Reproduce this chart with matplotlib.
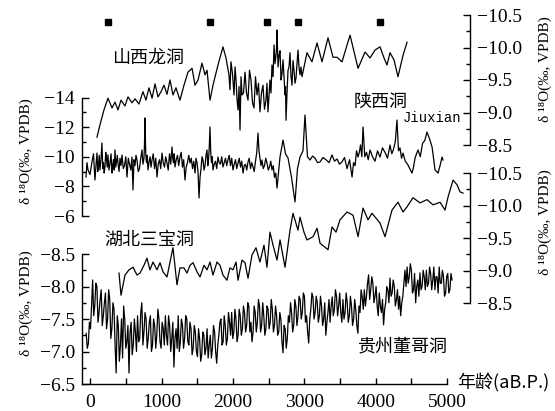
import matplotlib
matplotlib.use("Agg")
import matplotlib.pyplot as plt
import matplotlib.transforms as mtransforms

plt.rcParams['font.family'] = ['Liberation Serif', 'DejaVu Serif']

# ---- data (age in a B.P., d18O in permil VPDB) ----
longdong_age = [91, 133, 189, 245, 302, 344, 386, 428, 484, 526,
                582, 624, 680, 736, 778, 820, 863, 905, 947, 989,
                1031, 1073, 1115, 1157, 1199, 1255, 1311, 1367, 1424, 1466,
                1508, 1564, 1606, 1634, 1676, 1718, 1788, 1858, 1900, 1942,
                1956, 1970, 1991, 2013, 2027, 2041, 2055, 2069, 2083, 2097,
                2111, 2125, 2146, 2167, 2188, 2209, 2230, 2251, 2272, 2293,
                2314, 2335, 2356, 2377, 2398, 2419, 2440, 2461, 2475, 2489,
                2503, 2517, 2531, 2545, 2560, 2574, 2588, 2602, 2609, 2616,
                2630, 2644, 2658, 2672, 2686, 2700, 2714, 2728, 2735, 2742,
                2756, 2770, 2784, 2798, 2812, 2826, 2840, 2854, 2868, 2882,
                2896, 2910, 2924, 2938, 2952, 2966, 3036, 3106, 3177, 3247,
                3331, 3401, 3457, 3527, 3640, 3752, 3850, 3920, 3990, 4060,
                4116, 4158, 4200, 4256, 4312, 4383, 4439]
longdong_d18o = [-8.62, -8.81, -9.04, -9.22, -9.07, -9.16, -9.04, -9.19, -9.10, -9.24,
                 -9.15, -9.21, -9.13, -9.32, -9.19, -9.38, -9.22, -9.44, -9.24, -9.32,
                 -9.42, -9.28, -9.50, -9.27, -9.38, -9.19, -9.42, -9.62, -9.68, -9.42,
                 -9.50, -9.76, -9.58, -9.65, -9.19, -9.42, -9.73, -10.01, -9.84, -9.58,
                 -9.35, -9.78, -9.60, -9.27, -9.70, -9.50, -9.20, -9.04, -9.40, -8.73,
                 -9.55, -9.27, -9.30, -9.62, -9.30, -9.19, -9.65, -9.50, -9.15, -9.07,
                 -9.55, -9.27, -9.45, -9.01, -9.30, -9.42, -9.05, -9.19, -9.45, -9.01,
                 -9.25, -9.50, -9.30, -9.73, -9.55, -10.04, -9.75, -9.88, -10.00, -10.27,
                 -9.70, -9.88, -9.95, -9.50, -9.60, -9.81, -9.55, -9.27, -9.40, -8.88,
                 -9.30, -9.65, -9.70, -9.92, -9.55, -9.42, -9.80, -9.65, -9.45, -9.53,
                 -9.75, -9.96, -9.70, -9.58, -9.70, -9.55, -9.92, -9.78, -10.07, -9.78,
                 -10.15, -9.85, -9.85, -9.78, -10.19, -9.68, -9.93, -9.84, -9.96, -10.01,
                 -9.84, -9.73, -9.92, -9.81, -9.55, -9.88, -10.08]

jiuxian_age = [-63, -49, -35, -7, 21, 42, 63, 77, 91, 102,
               112, 122, 133, 147, 161, 172, 182, 192, 203, 214,
               224, 235, 245, 259, 273, 288, 302, 312, 323, 333,
               344, 355, 365, 376, 386, 400, 414, 428, 442, 460,
               477, 495, 512, 530, 547, 565, 582, 589, 596, 610,
               624, 638, 652, 670, 687, 705, 722, 736, 750, 757,
               764, 775, 785, 796, 806, 820, 835, 849, 863, 880,
               898, 915, 933, 950, 968, 985, 1003, 1020, 1038, 1055,
               1073, 1090, 1108, 1125, 1143, 1153, 1164, 1174, 1185, 1202,
               1220, 1237, 1255, 1272, 1290, 1307, 1325, 1342, 1360, 1378,
               1396, 1413, 1431, 1448, 1466, 1480, 1494, 1508, 1522, 1536,
               1550, 1564, 1578, 1592, 1606, 1620, 1634, 1645, 1655, 1665,
               1676, 1686, 1697, 1707, 1718, 1735, 1753, 1770, 1788, 1805,
               1823, 1840, 1858, 1875, 1893, 1910, 1928, 1945, 1963, 1980,
               1998, 2016, 2034, 2051, 2069, 2086, 2104, 2121, 2139, 2156,
               2174, 2191, 2209, 2226, 2244, 2261, 2279, 2296, 2314, 2332,
               2349, 2363, 2377, 2391, 2405, 2423, 2440, 2458, 2475, 2493,
               2510, 2528, 2545, 2563, 2580, 2598, 2616,
               2658, 2700, 2735, 2770, 2819, 2868, 2903, 2938, 2980, 3008,
               3043, 3079, 3114, 3149, 3184, 3219, 3261, 3303, 3345, 3387,
               3422, 3457, 3492, 3527, 3562, 3598, 3633, 3668, 3689, 3710,
               3731, 3752, 3770, 3787, 3805, 3822, 3846, 3871, 3895, 3920,
               3955, 3990, 4025, 4060, 4095, 4130, 4165, 4200, 4225, 4249,
               4274, 4298, 4319, 4340, 4362, 4383, 4414, 4446, 4478, 4509,
               4530, 4551, 4572, 4593, 4625, 4656, 4688, 4719, 4755, 4790,
               4832, 4874, 4902, 4930, 4944]
jiuxian_d18o = [-8.63, -9.60, -9.11, -8.80, -9.65, -10.20, -8.43, -9.40, -10.25, -9.00,
                -9.40, -10.10, -9.11, -9.80, -10.93, -9.20, -9.60, -8.90, -9.31, -10.30,
                -9.90, -9.30, -10.12, -9.10, -9.50, -10.20, -8.90, -9.40, -9.80, -9.10,
                -10.46, -9.30, -9.70, -10.10, -9.58, -9.00, -9.90, -9.40, -10.12, -9.20,
                -9.40, -10.00, -8.63, -9.90, -9.50, -9.10, -9.98, -8.80, -7.76, -9.80,
                -9.40, -10.10, -9.78, -9.00, -9.20, -9.90, -10.46, -9.50, -9.90, -10.80,
                -12.62, -10.20, -9.60, -10.10, -9.11, -9.60, -10.00, -9.30, -9.78, -10.20,
                -9.20, -9.90, -8.63, -9.50, -9.80, -9.20, -10.25, -9.60, -9.30, -10.00,
                -9.58, -9.10, -10.20, -9.50, -10.66, -9.90, -9.60, -10.20, -9.31, -9.80,
                -10.10, -9.40, -9.98, -10.30, -9.30, -9.80, -8.43, -9.30, -9.60, -10.10,
                -9.58, -9.90, -9.20, -9.70, -8.90, -9.90, -9.60, -9.00, -7.22, -8.60,
                -9.20, -10.00, -9.78, -9.10, -9.40, -10.10, -10.46, -9.40, -9.80, -10.60,
                -12.01, -10.30, -9.60, -10.00, -9.11, -9.50, -9.70, -9.20, -9.98, -9.60,
                -9.50, -10.00, -9.31, -9.60, -9.90, -9.40, -9.78, -10.10, -9.40, -9.90,
                -9.11, -9.50, -9.80, -9.20, -9.58, -9.90, -9.30, -9.70, -8.90, -9.40,
                -9.50, -9.10, -9.65, -9.90, -9.20, -9.60, -9.31, -9.00, -9.70, -10.30,
                -11.60, -10.40, -9.90, -9.40, -9.78, -9.20, -9.40, -9.90, -9.58, -9.10,
                -9.30, -9.70, -9.11, -9.40, -8.60, -8.90, -7.89,
                -10.00, -11.13, -10.20, -9.92, -8.60, -6.95, -9.20, -9.98, -10.40, -12.82,
                -10.00, -9.78, -10.05, -9.90, -9.60, -9.65, -9.95, -9.80, -9.60, -10.12,
                -9.70, -9.85, -9.50, -9.65, -9.95, -9.20, -9.80, -8.63, -9.60, -9.40,
                -10.40, -9.98, -10.30, -10.80, -10.00, -12.01, -10.00, -10.30, -9.80, -10.46,
                -10.00, -9.70, -10.40, -9.98, -10.60, -10.30, -9.90, -10.79, -10.20, -10.50,
                -11.00, -12.48, -10.40, -10.60, -9.90, -10.25, -9.70, -9.50, -9.20, -8.90,
                -9.30, -9.90, -10.20, -10.46, -10.00, -10.90, -11.10, -11.67, -11.20, -10.66,
                -9.11, -8.90, -9.40, -9.98, -9.78]

sanbao_age = [400, 428, 484, 540, 596, 652, 694, 750, 792, 834,
              877, 933, 975, 1017, 1073, 1115, 1157, 1213, 1255, 1311,
              1353, 1396, 1438, 1494, 1536, 1592, 1634, 1676, 1718, 1774,
              1816, 1858, 1914, 1956, 1998, 2041, 2069, 2125, 2167, 2209,
              2265, 2321, 2377, 2433, 2475, 2517, 2560, 2616, 2658, 2728,
              2798, 2840, 2910, 2938, 2994, 3036, 3121, 3177, 3219, 3331,
              3387, 3443, 3499, 3598, 3682, 3752, 3822, 3892, 3948, 4060,
              4130, 4228, 4312, 4383, 4439, 4523, 4621, 4719, 4804, 4902,
              4972, 5014, 5084, 5140, 5182, 5224]
sanbao_d18o = [-8.96, -8.62, -8.93, -9.01, -9.05, -8.93, -8.96, -9.08, -9.19, -9.01,
               -9.13, -9.01, -9.12, -8.98, -8.90, -9.13, -9.35, -8.78, -9.04, -9.04,
               -8.96, -9.08, -9.12, -8.98, -8.90, -9.08, -9.01, -9.13, -8.93, -9.13,
               -9.08, -8.93, -8.85, -9.04, -9.01, -9.13, -8.85, -9.16, -9.12, -8.88,
               -9.24, -9.35, -9.13, -9.39, -9.05, -9.59, -9.39, -9.16, -9.47, -9.05,
               -9.62, -9.88, -9.62, -9.82, -9.59, -9.47, -9.52, -9.65, -9.42, -9.32,
               -9.67, -9.59, -9.78, -9.90, -9.85, -9.52, -9.96, -9.78, -9.88, -9.73,
               -9.52, -9.93, -10.05, -9.90, -9.98, -10.12, -10.04, -10.09, -10.01, -10.05,
               -9.93, -10.13, -10.39, -10.32, -10.21, -10.19]

dongge_age = [-60, -45, -30, -15, 0, 15, 30, 45, 60, 75, 90, 105, 120, 135, 150, 165, 180, 195, 210, 225,
              240, 255, 270, 285, 300, 315, 330, 345, 360, 375, 390, 405, 420, 435, 450, 465, 480, 495, 510, 525,
              540, 555, 570, 585, 600, 615, 630, 645, 660, 675, 690, 705, 720, 735, 750, 765, 780, 795, 810, 825,
              840, 855, 870, 885, 900, 915, 930, 945, 960, 975, 990, 1005, 1020, 1035, 1050, 1065, 1080, 1095, 1110, 1125,
              1140, 1155, 1170, 1185, 1200, 1215, 1230, 1245, 1260, 1275, 1290, 1305, 1320, 1335, 1350, 1365, 1380, 1395, 1410, 1425,
              1440, 1455, 1470, 1485, 1500, 1515, 1530, 1545, 1560, 1575, 1590, 1605, 1620, 1635, 1650, 1665, 1680, 1695, 1710, 1725,
              1740, 1755, 1770, 1785, 1800, 1815, 1830, 1845, 1860, 1875, 1890, 1905, 1920, 1935, 1950, 1965, 1980, 1995, 2010, 2025,
              2040, 2055, 2070, 2085, 2100, 2115, 2130, 2145, 2160, 2175, 2190, 2205, 2220, 2235, 2250, 2265, 2280, 2295, 2310, 2325,
              2340, 2355, 2370, 2385, 2400, 2415, 2430, 2445, 2460, 2475, 2490, 2505, 2520, 2535, 2550, 2565, 2580, 2595, 2610, 2625,
              2640, 2655, 2670, 2685, 2700, 2715, 2730, 2745, 2760, 2775, 2790, 2805, 2820, 2835, 2850, 2865, 2880, 2895, 2910, 2925,
              2940, 2955, 2970, 2985, 3000, 3015, 3030, 3045, 3060, 3075, 3090, 3105, 3120, 3135, 3150, 3165, 3180, 3195, 3210, 3225,
              3240, 3255, 3270, 3285, 3300, 3315, 3330, 3345, 3360, 3375, 3390, 3405, 3420, 3435, 3450, 3465, 3480, 3495, 3510, 3525,
              3540, 3555, 3570, 3585, 3600, 3615, 3630, 3645, 3660, 3675, 3690, 3705, 3720, 3735, 3750, 3765, 3780, 3795, 3810, 3825,
              3840, 3855, 3870, 3885, 3900, 3915, 3930, 3945, 3960, 3975, 3990, 4005, 4020, 4035, 4050, 4065, 4080, 4095, 4110, 4125,
              4140, 4155, 4170, 4185, 4200, 4215, 4230, 4245, 4260, 4275, 4290, 4305, 4320, 4335, 4350, 4365, 4380, 4395, 4410, 4425,
              4440, 4455, 4470, 4485, 4500, 4515, 4530, 4545, 4560, 4575, 4590, 4605, 4620, 4635, 4650, 4665, 4680, 4695, 4710, 4725,
              4740, 4755, 4770, 4785, 4800, 4815, 4830, 4845, 4860, 4875, 4890, 4905, 4920, 4935, 4950, 4965, 4980, 4995, 5010, 5025,
              5040, 5055, 5070]
dongge_d18o = [-7.28, -7.05, -7.12, -7.45, -7.35, -7.70, -8.10, -7.55, -7.70, -8.05, -8.00, -7.45, -7.60, -7.80, -7.95, -7.40, -7.55, -7.75, -7.90, -7.35,
               -7.50, -7.95, -7.80, -7.20, -7.35, -7.75, -7.65, -7.10, -6.67, -7.55, -7.40, -6.85, -7.10, -7.50, -6.90, -7.70, -7.50, -7.05, -7.15, -7.40,
               -6.67, -7.30, -7.45, -6.95, -7.10, -7.50, -7.30, -7.00, -7.55, -7.15, -7.20, -7.60, -7.75, -7.10, -7.30, -7.60, -7.50, -7.05, -7.20, -7.45,
               -7.55, -7.00, -7.10, -7.50, -7.40, -7.05, -7.25, -7.65, -7.50, -7.15, -7.05, -7.45, -7.35, -7.10, -7.55, -7.25, -7.10, -7.55, -7.40, -7.00,
               -7.20, -7.45, -6.76, -7.20, -7.35, -7.05, -7.55, -7.00, -7.15, -7.50, -7.40, -7.05, -7.20, -7.55, -7.50, -7.15, -7.10, -7.45, -7.35, -6.95,
               -7.05, -7.40, -7.30, -7.00, -6.92, -7.35, -7.20, -6.85, -6.95, -7.30, -7.25, -6.95, -7.05, -7.35, -6.90, -7.10, -7.25, -6.90, -7.05, -7.40,
               -7.30, -7.00, -6.82, -7.10, -7.25, -7.45, -7.50, -7.10, -7.15, -7.55, -7.40, -7.10, -7.20, -7.60, -7.45, -7.25, -7.60, -7.20, -7.30, -7.65,
               -7.50, -7.15, -7.25, -7.65, -7.55, -7.25, -7.35, -7.70, -7.60, -7.30, -7.40, -7.75, -7.70, -7.30, -7.45, -7.15, -7.30, -7.70, -7.60, -7.30,
               -7.45, -7.80, -7.70, -7.30, -7.40, -7.75, -7.55, -7.25, -7.35, -7.70, -7.65, -7.35, -7.45, -7.80, -7.65, -7.30, -7.40, -7.70, -7.55, -7.25,
               -7.30, -7.60, -7.50, -7.15, -6.98, -7.40, -7.35, -7.05, -7.20, -7.55, -7.45, -7.75, -7.60, -7.30, -7.40, -7.80, -7.70, -7.40, -7.55, -7.85,
               -7.80, -7.50, -7.60, -7.90, -7.85, -7.45, -7.55, -7.30, -7.13, -7.50, -7.65, -7.90, -7.84, -7.50, -7.60, -7.85, -7.75, -7.45, -7.55, -7.85,
               -7.70, -7.40, -7.50, -7.75, -7.25, -7.45, -7.60, -7.80, -7.45, -7.70, -7.84, -7.55, -7.65, -7.95, -7.85, -7.55, -7.70, -7.90, -7.60, -7.45,
               -7.80, -7.50, -7.60, -7.90, -7.75, -7.45, -7.55, -7.85, -7.70, -7.40, -7.50, -7.80, -7.65, -7.40, -7.28, -7.70, -7.60, -7.95, -7.84, -7.65,
               -7.95, -7.70, -7.85, -8.05, -8.18, -7.80, -7.95, -8.15, -8.05, -7.75, -7.85, -8.00, -7.70, -7.55, -7.90, -7.70, -7.60, -7.80, -7.41, -7.65,
               -7.75, -8.00, -7.95, -7.75, -8.13, -7.85, -7.90, -8.10, -8.00, -7.70, -7.80, -7.95, -7.65, -7.85, -7.55, -7.75, -7.85, -8.05, -8.25, -8.00,
               -8.30, -8.05, -8.15, -8.35, -8.25, -7.90, -7.95, -8.20, -7.75, -8.00, -8.10, -7.85, -8.21, -7.95, -8.00, -8.25, -8.15, -7.95, -8.25, -8.00,
               -8.05, -8.30, -8.20, -7.95, -8.10, -8.30, -7.95, -8.15, -8.15, -7.90, -8.30, -8.05, -8.05, -8.25, -8.15, -7.85, -7.90, -8.15, -8.20, -7.90,
               -7.95, -8.20, -8.10]

event_age = [250, 1680, 2480, 2910, 4060]

# ---- layout (pixel based) ----
W, H = 555, 411
fig = plt.figure(figsize=(W / 100, H / 100), dpi=100)
X0, X1 = 82, 470
AGE_LO, AGE_HI = -119, 5322
SERIF = ['Liberation Serif', 'DejaVu Serif']


def px(x, y):
    return x / W, 1 - y / H


def band(top, bottom, lims, ticks, side, fmt):
    ax = fig.add_axes([X0 / W, 1 - bottom / H, (X1 - X0) / W, (bottom - top) / H])
    ax.patch.set_alpha(0)
    ax.set_xlim(AGE_LO, AGE_HI)
    ax.set_ylim(lims[1], lims[0])
    for s in ax.spines.values():
        s.set_visible(False)
    ax.spines[side].set_visible(True)
    ax.spines[side].set_bounds(lims[0], lims[1])
    ax.spines[side].set_linewidth(1.0)
    if side == 'right':
        ax.yaxis.tick_right()
    ax.set_xticks([])
    step = ticks[1] - ticks[0]
    ax.set_yticks(ticks, labels=[fmt.format(t).replace('-', '\u2212') for t in ticks],
                  fontfamily=SERIF)
    ax.set_yticks([t + step / 2 for t in ticks[:-1]], minor=True)
    ax.tick_params(axis='y', which='major', direction='in', length=5, width=1.0,
                   labelsize=14, pad=5)
    ax.tick_params(axis='y', which='minor', direction='in', length=3, width=1.0)
    return ax


ax_ld = band(15, 145, (-10.5, -8.5), [-10.5, -10.0, -9.5, -9.0, -8.5], 'right', '{:.1f}')
ax_jx = band(97.5, 216, (-14, -6), [-14, -12, -10, -8, -6], 'left', '{:.0f}')
ax_sb = band(173, 303, (-10.5, -8.5), [-10.5, -10.0, -9.5, -9.0, -8.5], 'right', '{:.1f}')
ax_dg = band(254, 384, (-8.5, -6.5), [-8.5, -8.0, -7.5, -7.0, -6.5], 'left', '{:.1f}')

ax_ld.plot(longdong_age, longdong_d18o, color='black', lw=0.9, clip_on=False)
ax_jx.plot(jiuxian_age, jiuxian_d18o, color='black', lw=0.9, clip_on=False)
ax_sb.plot(sanbao_age, sanbao_d18o, color='black', lw=0.9, clip_on=False)
ax_dg.plot(dongge_age, dongge_d18o, color='black', lw=0.9, clip_on=False)

# event markers along the top
trans = mtransforms.blended_transform_factory(ax_ld.transData, ax_ld.transAxes)
ax_ld.plot(event_age, [0.946] * len(event_age), 's', color='black', ms=4,
           transform=trans, clip_on=False)

# bottom age axis
ax_dg.spines['bottom'].set_visible(True)
ax_dg.spines['bottom'].set_bounds(AGE_LO, 5000)
ax_dg.spines['bottom'].set_linewidth(1.0)
ax_dg.set_xticks([0, 1000, 2000, 3000, 4000, 5000],
                 labels=['0', '1000', '2000', '3000', '4000', '5000'], fontfamily=SERIF)
ax_dg.set_xticks([500, 1500, 2500, 3500, 4500], minor=True)
ax_dg.tick_params(axis='x', which='both', direction='in', length=4, width=1.0,
                  labelsize=14, pad=7)

# texts
cjk = ['Noto Sans CJK SC', 'DejaVu Sans']
fig.text(*px(148, 58), '山西龙洞', family=cjk, fontsize=13, ha='center', va='center')
fig.text(*px(381, 103), '陕西洞', family=cjk, fontsize=13, ha='center', va='center')
fig.text(*px(432, 118), 'Jiuxian', family=['Liberation Mono'], fontsize=10,
         ha='center', va='center')
fig.text(*px(149, 240), '湖北三宝洞', family=cjk, fontsize=13, ha='center', va='center')
fig.text(*px(403, 346), '贵州董哥洞', family=cjk, fontsize=13, ha='center', va='center')
fig.text(*px(503, 383), '年龄(aB.P.)', family=cjk, fontsize=13, ha='center', va='center')

ylab = 'δ ¹⁸O(‰, VPDB)'
for (x, y) in [(26, 151), (26, 303), (545, 69), (545, 222)]:
    fig.text(*px(x, y), ylab, rotation=90, fontsize=11, family=SERIF,
             ha='center', va='center')

fig.savefig('out.png', dpi=100)
